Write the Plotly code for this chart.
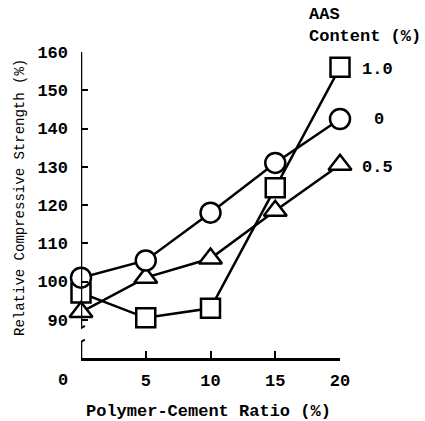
import plotly.graph_objects as go

x_ratio = [0, 5, 10, 15, 20]
aas_labels = ["0", "0.5", "1.0"]
strength_aas0 = [101, 105.5, 118, 131, 142.5]
strength_aas05 = [92, 101, 106, 118.5, 130.5]
strength_aas10 = [97, 90.5, 93, 124.5, 156]
y_ticks = [90, 100, 110, 120, 130, 140, 150, 160]
x_ticks = [5, 10, 15, 20]

FONT = "Liberation Mono"
BLK = "black"
fig = go.Figure()

series = [
    (strength_aas10, "square", 19),
    (strength_aas05, "triangle-up", 20),
    (strength_aas0, "circle", 20),
]
for y, s, sz in series:
    fig.add_trace(go.Scatter(x=x_ratio, y=y, mode="lines", cliponaxis=False,
                             line=dict(color=BLK, width=2.5), showlegend=False))
for y, s, sz in series:
    fig.add_trace(go.Scatter(x=x_ratio, y=y, mode="markers", cliponaxis=False,
                             marker=dict(symbol=s, size=sz, color="white",
                                         line=dict(color=BLK, width=2.5)),
                             showlegend=False))

plot_l, plot_r, plot_t, plot_b = 81, 340, 52, 358
def px_x(p):
    return (p - plot_l) / (plot_r - plot_l)
def px_y(p):
    return (plot_b - p) / (plot_b - plot_t)

# y-axis with break
shapes = [
    dict(type="line", xref="x", yref="y", x0=0, x1=0, y0=160, y1=88.2, line=dict(color=BLK, width=2.5)),
    dict(type="line", xref="x", yref="y", x0=0, x1=0, y0=84.2, y1=80, line=dict(color=BLK, width=2.5)),
    dict(type="line", xref="x", yref="y", x0=-0.3, x1=0.3, y0=87.2, y1=88.4, line=dict(color=BLK, width=2)),
    dict(type="line", xref="x", yref="y", x0=-0.3, x1=0.3, y0=83.6, y1=84.8, line=dict(color=BLK, width=2)),
]

tf = dict(family=FONT, size=17, color=BLK, weight="bold")
annotations = [
    dict(x=px_x(63), y=px_y(380), xref="paper", yref="paper", text="0", showarrow=False,
         xanchor="center", yanchor="middle", font=tf),
    dict(x=20, y=strength_aas10[-1], xref="x", yref="y", text="1.0", showarrow=False,
         xanchor="left", xshift=20, yshift=-2, font=tf),
    dict(x=20, y=strength_aas0[-1], xref="x", yref="y", text="0", showarrow=False,
         xanchor="left", xshift=32, yshift=-1, font=tf),
    dict(x=20, y=strength_aas05[-1], xref="x", yref="y", text="0.5", showarrow=False,
         xanchor="left", xshift=20, yshift=-3, font=tf),
    dict(x=px_x(307), y=px_y(15), xref="paper", yref="paper", text="AAS",
         showarrow=False, xanchor="left", yanchor="middle", font=tf),
    dict(x=px_x(307), y=px_y(37), xref="paper", yref="paper", text="Content (%)",
         showarrow=False, xanchor="left", yanchor="middle", font=tf),
    dict(x=px_x(208), y=px_y(411), xref="paper", yref="paper", text="Polymer-Cement Ratio (%)",
         showarrow=False, xanchor="center", yanchor="middle", font=tf),
    dict(x=px_x(20), y=px_y(198), xref="paper", yref="paper", text="Relative Compressive Strength (%)",
         showarrow=False, xanchor="center", yanchor="middle", textangle=-90,
         font=dict(family=FONT, size=14, color=BLK)),
]

fig.update_layout(
    width=425, height=421,
    margin=dict(l=plot_l, r=425 - plot_r, t=plot_t, b=421 - plot_b, autoexpand=False),
    paper_bgcolor="white", plot_bgcolor="white",
    font=dict(family=FONT, size=17, color=BLK),
    shapes=shapes, annotations=annotations,
    xaxis=dict(range=[0, 20], tickvals=x_ticks, ticktext=[str(v) for v in x_ticks],
               ticks="inside", ticklen=7, tickwidth=2, tickcolor=BLK,
               showline=True, linecolor=BLK, linewidth=2.5, showgrid=False, zeroline=False,
               tickfont=tf, automargin=False, ticklabelstandoff=5),
    yaxis=dict(range=[80, 160], tickvals=y_ticks, ticktext=[str(v) for v in y_ticks],
               ticks="inside", ticklen=7, tickwidth=2, tickcolor=BLK,
               showline=False, showgrid=False, zeroline=False,
               tickfont=tf, ticklabelstandoff=12, automargin=False),
)

fig.write_html("out.html", config={"displayModeBar": False},
               post_script="document.body.style.margin='0';")
